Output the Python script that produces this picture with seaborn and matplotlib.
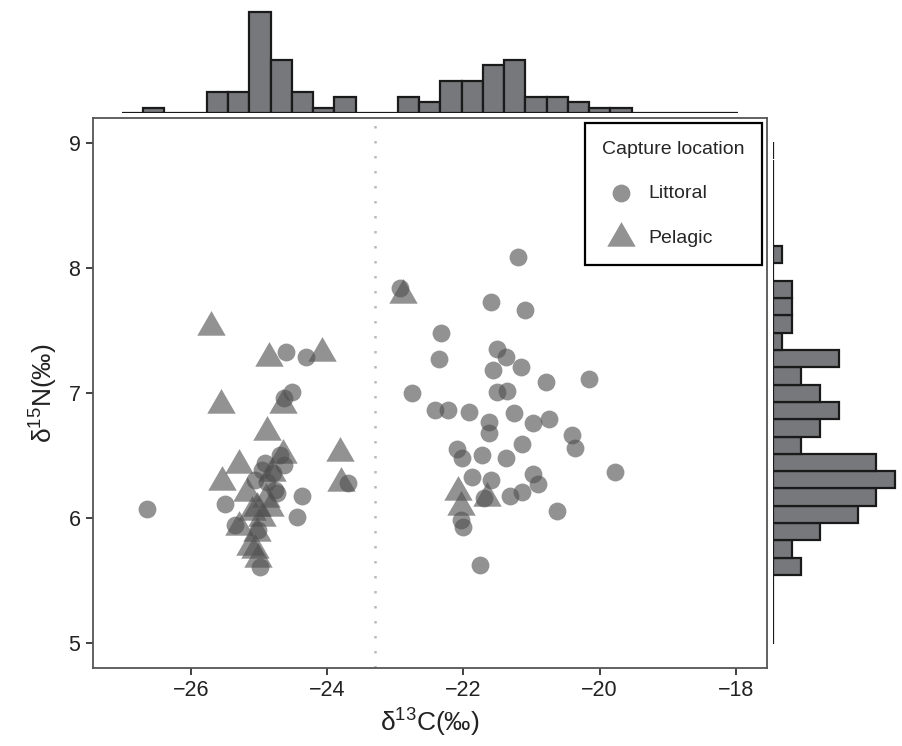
import numpy as np
import pandas as pd
import matplotlib
matplotlib.use("Agg")
import matplotlib.pyplot as plt
import seaborn as sns

# Scatter data
littoral_c13 = [
    -24.61, -24.31, -24.51, -24.64, -24.69, -24.91, -24.64, -24.96, -24.79, -25.06,
    -24.89, -24.76, -24.74, -24.37, -23.69, -25.50, -26.64, -24.45, -25.35, -25.01,
    -24.99,
    -21.20, -22.93, -21.59, -21.10, -22.33, -22.36, -21.51, -21.37, -21.16, -21.57,
    -20.16, -20.78, -22.75, -21.50, -21.36, -22.42, -22.23, -21.91, -21.25, -20.74,
    -21.62, -20.97, -21.63, -20.40, -20.36, -21.14, -22.09, -22.02, -21.73, -21.37,
    -19.77, -21.88, -21.59, -20.97, -20.91, -21.70, -21.32, -21.14, -20.63, -22.04,
    -22.00, -21.76,
]
littoral_n15 = [
    7.33, 7.29, 7.01, 6.96, 6.50, 6.44, 6.42, 6.38, 6.36, 6.30,
    6.29, 6.22, 6.20, 6.18, 6.28, 6.11, 6.07, 6.01, 5.94, 5.90,
    5.61,
    8.09, 7.84, 7.73, 7.66, 7.48, 7.27, 7.35, 7.29, 7.21, 7.18,
    7.11, 7.09, 7.00, 7.01, 7.02, 6.86, 6.86, 6.85, 6.84, 6.79,
    6.77, 6.76, 6.68, 6.66, 6.56, 6.59, 6.55, 6.48, 6.50, 6.48,
    6.37, 6.33, 6.30, 6.35, 6.27, 6.16, 6.18, 6.21, 6.06, 5.98,
    5.93, 5.62,
]
pelagic_c13 = [
    -25.70, -24.85, -24.08, -25.56, -24.65, -24.88, -23.81, -24.65, -25.29, -25.54,
    -23.79, -25.18, -24.81, -25.03, -24.84, -24.96, -25.30, -25.03, -25.13, -25.06,
    -25.01, -24.90, -25.10,
    -22.88, -22.08, -22.03, -21.65,
]
pelagic_n15 = [
    7.53, 7.28, 7.32, 6.90, 6.90, 6.69, 6.52, 6.50, 6.42, 6.29,
    6.28, 6.20, 6.36, 6.08, 6.08, 6.00, 5.93, 5.88, 5.77, 5.74,
    5.67, 6.15, 6.05,
    7.78, 6.21, 6.09, 6.16,
]

# Marginal histogram counts (29 bins in each direction)
c13_bin_start, c13_bin_width = -27.016, 0.312
c13_counts = [0, 1, 0, 0, 4, 4, 19, 10, 4, 1, 3, 0, 0, 3, 2,
              6, 6, 9, 10, 3, 3, 2, 1, 1, 0, 0, 0, 0, 0]
n15_bin_start, n15_bin_width = 4.99, 0.1385
n15_counts = [0, 0, 0, 0, 3, 2, 5, 9, 11, 13, 11, 3, 5, 7, 5,
              3, 7, 1, 2, 2, 2, 0, 1, 0, 0, 0, 0, 0, 0]

split_c13 = -23.3

df = pd.DataFrame({
    "d13C": littoral_c13 + pelagic_c13,
    "d15N": littoral_n15 + pelagic_n15,
    "Capture location": ["Littoral"] * len(littoral_c13) + ["Pelagic"] * len(pelagic_c13),
})

sns.set_theme(style="ticks")
plt.rcParams["font.family"] = ["Liberation Sans", "DejaVu Sans"]
plt.rcParams["mathtext.default"] = "regular"

W, H = 903, 746
fig = plt.figure(figsize=(W / 100, H / 100), dpi=100)
ax = fig.add_axes([93 / W, 78 / H, 674 / W, 550 / H])
ax_top = fig.add_axes([93 / W, 633 / H, 674 / W, 110 / H])
ax_right = fig.add_axes([773 / W, 78 / H, 127 / W, 550 / H])

point_color = "#505050"
tri = [(-1.0, -0.577), (1.0, -0.577), (0.0, 1.155)]

ax.axvline(split_c13, color="#bbbbbb", ls=(0, (1, 5)), lw=1.8, zorder=0)
sns.scatterplot(data=df[df["Capture location"] == "Littoral"], x="d13C", y="d15N",
                ax=ax, color=point_color, alpha=0.62, s=165, marker="o",
                linewidth=0, label="Littoral")
sns.scatterplot(data=df[df["Capture location"] == "Pelagic"], x="d13C", y="d15N",
                ax=ax, color=point_color, alpha=0.62, s=560, marker=tri,
                linewidth=0, label="Pelagic")

ax.set_xlim(-27.44, -17.54)
ax.set_ylim(4.8, 9.2)
ax.set_xticks([-26, -24, -22, -20, -18])
ax.set_yticks([5, 6, 7, 8, 9])
ax.set_xticklabels(["\u221226", "\u221224", "\u221222", "\u221220", "\u221218"])
ax.tick_params(axis="both", labelsize=15.5, length=5, width=1.3, color="#333333",
               labelcolor="#222222", pad=4)
for sp in ax.spines.values():
    sp.set_visible(True)
    sp.set_color("#555555")
    sp.set_linewidth(1.3)
ax.set_xlabel("δ$^{13}$C(‰)", fontsize=19, color="#222222", labelpad=4)
ax.set_ylabel("δ$^{15}$N(‰)", fontsize=19, color="#222222", labelpad=6)

leg = ax.legend(title="Capture location", loc="upper right",
                bbox_to_anchor=(0.9926, 0.9909), borderaxespad=0,
                fontsize=14, title_fontsize=14, frameon=True, fancybox=False,
                framealpha=1, edgecolor="black", borderpad=0.9,
                handlelength=2.0, handletextpad=0.4, labelspacing=1.4,
                alignment="left")
leg.get_frame().set_linewidth(1.6)

# Top marginal histogram
c13_edges = c13_bin_start + c13_bin_width * np.arange(len(c13_counts) + 1)
top_df = pd.DataFrame({"c13": (c13_edges[:-1] + c13_edges[1:]) / 2, "n": c13_counts})
sns.histplot(data=top_df, x="c13", weights="n", bins=list(c13_edges), ax=ax_top,
             color="#77787b", edgecolor="#1a1a1a", linewidth=1.6, alpha=1)
ax_top.set_xlim(ax.get_xlim())
ax_top.set_ylim(0, 20.7)
ax_top.axis("off")

# Right marginal histogram
n15_edges = n15_bin_start + n15_bin_width * np.arange(len(n15_counts) + 1)
right_df = pd.DataFrame({"n15": (n15_edges[:-1] + n15_edges[1:]) / 2, "n": n15_counts})
sns.histplot(data=right_df, y="n15", weights="n", bins=list(n15_edges), ax=ax_right,
             color="#77787b", edgecolor="#1a1a1a", linewidth=1.6, alpha=1)
ax_right.set_ylim(ax.get_ylim())
ax_right.set_xlim(0, 13.5)
ax_right.axis("off")

fig.savefig("out.png", dpi=100)
